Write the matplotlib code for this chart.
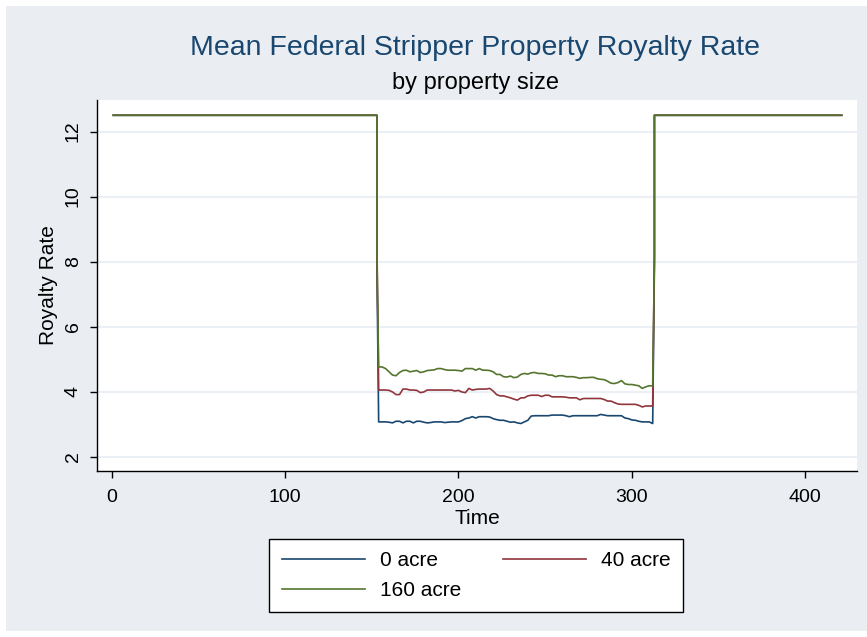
import numpy as np
import matplotlib
matplotlib.use("Agg")
from matplotlib import pyplot as plt
from matplotlib.patches import Rectangle

plt.rcParams['font.family'] = ['Liberation Sans', 'DejaVu Sans']

## royalty rate outside the stripper period (percent)
full_rate = 12.5
t_start, t_drop, t_spike_in = 1, 153, 153
t_spike_out, t_back, t_end = 313, 313, 421

## monthly means during the stripper period, sampled every 2 periods
t_mid = np.arange(154, 313, 2)

rate_0 = [3.07, 3.07, 3.07, 3.06, 3.04, 3.09, 3.09, 3.04, 3.09, 3.09,
          3.04, 3.09, 3.09, 3.06, 3.04, 3.05, 3.07, 3.07, 3.07, 3.05,
          3.06, 3.07, 3.07, 3.07, 3.11, 3.17, 3.19, 3.23, 3.19, 3.23,
          3.23, 3.23, 3.22, 3.17, 3.14, 3.12, 3.12, 3.09, 3.06, 3.07,
          3.04, 3.02, 3.07, 3.12, 3.25, 3.26, 3.26, 3.26, 3.26, 3.26,
          3.28, 3.28, 3.28, 3.28, 3.26, 3.23, 3.26, 3.26, 3.26, 3.26,
          3.26, 3.26, 3.26, 3.26, 3.30, 3.28, 3.26, 3.26, 3.26, 3.26,
          3.26, 3.19, 3.17, 3.13, 3.12, 3.09, 3.07, 3.07, 3.07, 3.02]

rate_40 = [4.05, 4.05, 4.05, 4.04, 3.99, 3.91, 3.91, 4.08, 4.08, 4.05,
           4.05, 4.04, 3.97, 3.99, 4.05, 4.05, 4.05, 4.05, 4.05, 4.05,
           4.05, 4.05, 4.02, 4.04, 3.99, 3.97, 4.10, 4.05, 4.07, 4.08,
           4.08, 4.08, 4.10, 4.02, 3.91, 3.87, 3.87, 3.84, 3.81, 3.77,
           3.74, 3.81, 3.81, 3.87, 3.89, 3.89, 3.89, 3.85, 3.89, 3.89,
           3.84, 3.84, 3.84, 3.84, 3.83, 3.81, 3.81, 3.81, 3.75, 3.79,
           3.79, 3.79, 3.79, 3.79, 3.79, 3.76, 3.71, 3.71, 3.66, 3.62,
           3.61, 3.61, 3.61, 3.61, 3.61, 3.58, 3.53, 3.56, 3.56, 3.56]

rate_160 = [4.76, 4.76, 4.71, 4.61, 4.51, 4.49, 4.59, 4.65, 4.66, 4.61,
            4.63, 4.65, 4.59, 4.61, 4.65, 4.66, 4.67, 4.71, 4.71, 4.68,
            4.66, 4.66, 4.66, 4.65, 4.63, 4.71, 4.71, 4.71, 4.66, 4.71,
            4.66, 4.66, 4.65, 4.61, 4.53, 4.53, 4.46, 4.45, 4.48, 4.43,
            4.45, 4.53, 4.56, 4.54, 4.58, 4.59, 4.56, 4.56, 4.55, 4.51,
            4.51, 4.46, 4.49, 4.49, 4.46, 4.46, 4.46, 4.44, 4.41, 4.43,
            4.43, 4.44, 4.44, 4.40, 4.38, 4.37, 4.32, 4.26, 4.25, 4.28,
            4.34, 4.24, 4.22, 4.22, 4.20, 4.18, 4.10, 4.15, 4.18, 4.18]

## transition-month means (entering, leaving)
spike_0 = [7.8, 7.9]
spike_40 = [8.6, 8.3]
spike_160 = [8.2, 8.1]

labels = ['0 acre', '40 acre', '160 acre']
colors = ['#1a476f', '#90353b', '#55752f']

x_ticks = [0, 100, 200, 300, 400]
y_ticks = [2, 4, 6, 8, 10, 12]


def full_series(mid, spike):
    t = np.concatenate(([t_start, t_drop, t_spike_in], t_mid,
                        [t_spike_out, t_back, t_end]))
    v = np.concatenate(([full_rate, full_rate, spike[0]], mid,
                        [spike[1], full_rate, full_rate]))
    return t, v


W, H = 867, 637
fig = plt.figure(figsize=(W / 100, H / 100), dpi=100, facecolor='white')
fig.patches.append(Rectangle((6 / W, 6 / H), 1 - 6 / W, 1 - 12 / H,
                             transform=fig.transFigure, facecolor='#eaeef3',
                             edgecolor='none', zorder=-10))

ax = fig.add_axes([97 / W, 1 - 471 / H, 760 / W, 371 / H])
ax.set_zorder(1)
ax.set_facecolor('white')

lines = []
for mid, spike, lab, col in zip([rate_0, rate_40, rate_160],
                                [spike_0, spike_40, spike_160], labels, colors):
    t, v = full_series(mid, spike)
    ln, = ax.plot(t, v, color=col, lw=1.2, label=lab)
    lines.append(ln)

ax.set_xlim(-8.4, 429.8)
ax.set_ylim(1.56, 12.97)
ax.set_xticks(x_ticks)
ax.set_yticks(y_ticks)
ax.set_yticklabels([str(y) for y in y_ticks], rotation=90, va='center')
ax.grid(axis='y', color='#eaf0f6', lw=1.5)
ax.set_axisbelow(True)
for s in ['top', 'right']:
    ax.spines[s].set_visible(False)
for s in ['left', 'bottom']:
    ax.spines[s].set_linewidth(1.0)
ax.tick_params(direction='out', length=5, width=1.0, labelsize=14)
ax.tick_params(axis='x', pad=8)
ax.tick_params(axis='y', pad=6)

ax.set_xlabel('Time', fontsize=15, labelpad=2)
ax.set_ylabel('Royalty Rate', fontsize=15, labelpad=5)

fig.text(475 / W, 1 - 48 / H, 'Mean Federal Stripper Property Royalty Rate',
         ha='center', va='center', fontsize=20.5, color='#1a476f')
fig.text(475 / W, 1 - 83 / H, 'by property size',
         ha='center', va='center', fontsize=17, color='black')

## row-wise legend order: 0 | 40 / 160
handles = [lines[0], lines[2], lines[1]]
leg = fig.legend(handles, [h.get_label() for h in handles], ncol=2,
                 loc='upper center', bbox_to_anchor=(476 / W, 1 - 539 / H),
                 frameon=True, fancybox=False, framealpha=1, fontsize=15,
                 handlelength=4.0, handletextpad=0.7, columnspacing=2.0,
                 labelspacing=0.5, borderpad=0.6, borderaxespad=0)
leg.get_frame().set_edgecolor('black')
leg.get_frame().set_linewidth(1.0)

fig.savefig('out.png', dpi=100, facecolor=fig.get_facecolor())
